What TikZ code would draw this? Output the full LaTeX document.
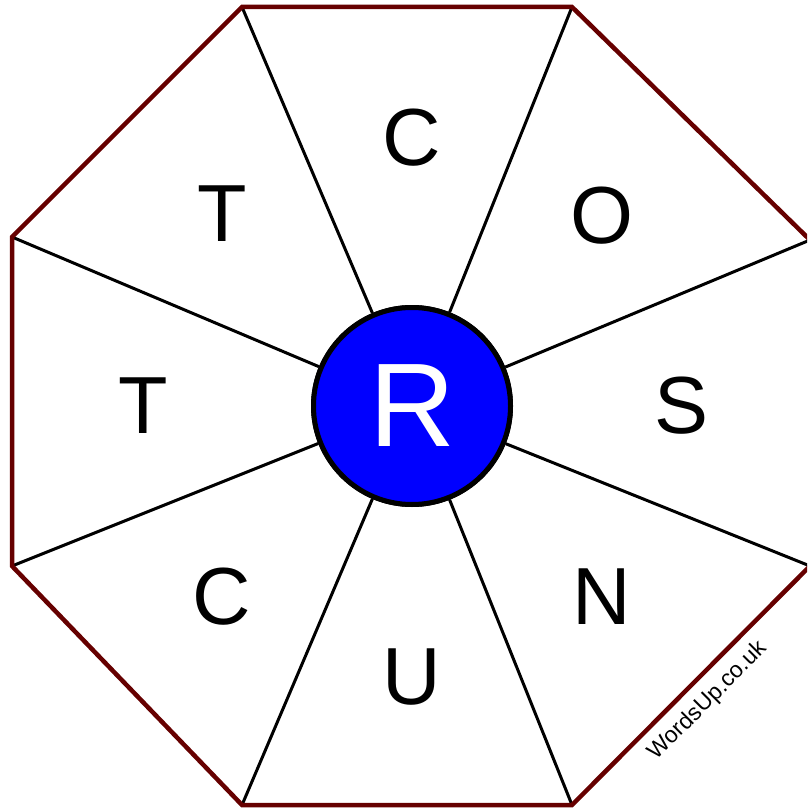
\documentclass[tikz,border=0pt]{standalone}
\usepackage{fontspec}
\setmainfont{Liberation Sans}
\definecolor{rimred}{RGB}{102,0,0}
\definecolor{hubblue}{RGB}{0,0,255}
\begin{document}
\begin{tikzpicture}[x=1pt,y=-1pt,
  rim/.style={draw=rimred,line width=4.5pt,line join=miter},
  spoke/.style={draw=black,line width=3pt},
  letter/.style={font=\fontsize{81}{81}\selectfont,text=black,inner sep=0pt},
  hub/.style={circle,draw=black,fill=hubblue,line width=5pt,minimum size=197pt,inner sep=0pt,
    text=white,font=\fontsize{119}{119}\selectfont},
  mark/.style={}]
\useasboundingbox (0,0) rectangle (807,810);
\begin{scope}
\clip (0,0) rectangle (807,810);
\coordinate (v1) at (242,7);
\coordinate (v2) at (572,7);
\coordinate (v3) at (810,240);
\coordinate (v4) at (810,566);
\coordinate (v5) at (572,805);
\coordinate (v6) at (242,805);
\coordinate (v7) at (12,566);
\coordinate (v8) at (12,237);
\node[hub] (R) at (412,406) {R};
\foreach \v in {v1,v2,v3,v4,v5,v6,v7,v8} \draw[spoke] (R) -- (\v);
\draw[rim] (v1) -- (v2) -- (v3) -- (v4) -- (v5) -- (v6) -- (v7) -- (v8) -- cycle;
\node[hub] (R) at (412,406) {R};
\end{scope}
\node[letter] (l1) at (412,138) {C};
\node[letter] (l2) at (602,216) {O};
\node[letter] (l3) at (682,406) {S};
\node[letter] (l4) at (602,597) {N};
\node[letter] (l5) at (412,677) {U};
\node[letter] (l6) at (222,597) {C};
\node[letter] (l7) at (143,406) {T};
\node[letter] (l8) at (222,214) {T};
\node[rotate=45,font=\fontsize{23}{23}\selectfont,inner sep=0pt] (wm) at (708,701) {WordsUp.co.uk};
\end{tikzpicture}
\end{document}
